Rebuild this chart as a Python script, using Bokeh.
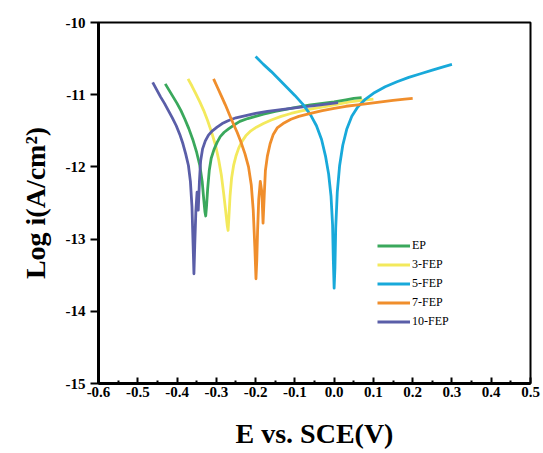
from bokeh.plotting import figure
from bokeh.models import FixedTicker, Legend, LegendItem, Range1d
from bokeh.embed import file_html
from bokeh.resources import INLINE

# ---- data ----
ep_E = [-0.430, -0.420, -0.410, -0.400, -0.390, -0.380, -0.370, -0.360, -0.350, -0.342, -0.336, -0.332,
        -0.329, -0.327, -0.325, -0.322, -0.318, -0.313, -0.306, -0.298, -0.290, -0.280, -0.268, -0.255,
        -0.240, -0.220, -0.200, -0.180, -0.150, -0.120, -0.090, -0.060, -0.030, 0.000, 0.030, 0.050, 0.070]
ep_i = [-10.85, -10.94, -11.03, -11.12, -11.22, -11.34, -11.47, -11.62, -11.80, -11.98, -12.20, -12.45,
        -12.62, -12.68, -12.55, -12.30, -12.05, -11.88, -11.76, -11.66, -11.58, -11.52, -11.47, -11.42,
        -11.37, -11.33, -11.30, -11.27, -11.23, -11.20, -11.17, -11.14, -11.12, -11.10, -11.07, -11.05, -11.04]

fep3_E = [-0.372, -0.362, -0.352, -0.342, -0.332, -0.322, -0.312, -0.302, -0.294, -0.287, -0.281, -0.276,
          -0.272, -0.270, -0.268, -0.265, -0.261, -0.256, -0.250, -0.243, -0.235, -0.225, -0.212, -0.198,
          -0.180, -0.160, -0.135, -0.110, -0.080, -0.050, -0.020, 0.010, 0.040, 0.070, 0.100]
fep3_i = [-10.78, -10.88, -10.99, -11.10, -11.22, -11.36, -11.52, -11.70, -11.90, -12.12, -12.38, -12.62,
          -12.82, -12.88, -12.70, -12.40, -12.15, -11.98, -11.85, -11.74, -11.65, -11.57, -11.50, -11.45,
          -11.40, -11.35, -11.30, -11.26, -11.22, -11.19, -11.16, -11.13, -11.10, -11.08, -11.06]

fep5_E = [-0.200, -0.180, -0.160, -0.140, -0.120, -0.100, -0.080, -0.060, -0.045, -0.032, -0.022, -0.014,
          -0.008, -0.004, -0.002, 0.000, 0.002, 0.004, 0.008, 0.014, 0.022, 0.032, 0.045, 0.060, 0.080,
          0.100, 0.130, 0.160, 0.190, 0.220, 0.250, 0.280, 0.300]
fep5_i = [-10.47, -10.58, -10.68, -10.79, -10.90, -11.01, -11.13, -11.28, -11.43, -11.62, -11.85, -12.10,
          -12.40, -12.80, -13.30, -13.68, -13.40, -12.85, -12.35, -11.98, -11.70, -11.48, -11.30, -11.17,
          -11.06, -10.98, -10.89, -10.82, -10.76, -10.71, -10.66, -10.61, -10.58]

fep7_E = [-0.307, -0.297, -0.287, -0.277, -0.267, -0.257, -0.247, -0.237, -0.227, -0.218, -0.211, -0.206,
          -0.202, -0.199, -0.197, -0.195, -0.192, -0.188, -0.184, -0.181, -0.178, -0.175, -0.170, -0.163,
          -0.155, -0.145, -0.130, -0.110, -0.090, -0.060, -0.030, 0.000, 0.030, 0.060, 0.090, 0.120, 0.150,
          0.180, 0.200]
fep7_i = [-10.78, -10.90, -11.02, -11.14, -11.27, -11.40, -11.52, -11.66, -11.82, -12.00, -12.25, -12.60,
          -13.10, -13.55, -13.30, -12.90, -12.45, -12.20, -12.35, -12.78, -12.40, -12.05, -11.85, -11.68,
          -11.55, -11.46, -11.40, -11.34, -11.30, -11.26, -11.22, -11.19, -11.16, -11.14, -11.12, -11.10,
          -11.08, -11.06, -11.05]

fep10_E = [-0.462, -0.452, -0.442, -0.432, -0.422, -0.412, -0.402, -0.393, -0.385, -0.378, -0.371, -0.366,
           -0.362, -0.359, -0.357, -0.355, -0.352, -0.349, -0.346, -0.343, -0.340, -0.335, -0.328, -0.320,
           -0.310, -0.298, -0.285, -0.270, -0.250, -0.225, -0.200, -0.170, -0.140, -0.110, -0.080, -0.050,
           -0.020, 0.010]
fep10_i = [-10.83, -10.93, -11.03, -11.12, -11.22, -11.32, -11.43, -11.55, -11.68, -11.82, -11.98, -12.20,
           -12.55, -13.10, -13.48, -13.10, -12.60, -12.35, -12.60, -12.20, -11.92, -11.75, -11.64, -11.56,
           -11.50, -11.45, -11.40, -11.36, -11.32, -11.29, -11.26, -11.23, -11.21, -11.19, -11.17, -11.15,
           -11.13, -11.11]

series_names = ["EP", "3-FEP", "5-FEP", "7-FEP", "10-FEP"]
series_colors = ["#3aa85c", "#f3e95c", "#18a9da", "#f08e2c", "#5a5ea8"]

x_ticks = [-0.6, -0.5, -0.4, -0.3, -0.2, -0.1, 0.0, 0.1, 0.2, 0.3, 0.4, 0.5]
x_tick_labels = ["-0.6", "-0.5", "-0.4", "-0.3", "-0.2", "-0.1", "0.0", "0.1", "0.2", "0.3", "0.4", "0.5"]
y_ticks = [-15, -14, -13, -12, -11, -10]
y_tick_labels = ["-15", "-14", "-13", "-12", "-11", "-10"]

FONT = "Liberation Serif"

p = figure(width=543, height=453, output_backend="svg", toolbar_location=None,
           x_range=Range1d(-0.6, 0.5), y_range=Range1d(-15, -10),
           min_border_left=98, min_border_right=13, min_border_top=22, min_border_bottom=70)
p.background_fill_color = "white"
p.border_fill_color = "white"
p.grid.visible = False
p.outline_line_color = "black"
p.outline_line_width = 2

data = {
    "EP": (ep_E, ep_i), "3-FEP": (fep3_E, fep3_i), "5-FEP": (fep5_E, fep5_i),
    "7-FEP": (fep7_E, fep7_i), "10-FEP": (fep10_E, fep10_i),
}
renderers = {}
for name in ["3-FEP", "EP", "10-FEP", "5-FEP", "7-FEP"]:
    E, i = data[name]
    col = series_colors[series_names.index(name)]
    renderers[name] = p.line(E, i, line_color=col, line_width=2.8, line_join="round")

legend = Legend(items=[LegendItem(label=n, renderers=[renderers[n]]) for n in series_names],
                location=(279, 52), padding=0, margin=0, spacing=0,
                glyph_width=33, glyph_height=19, label_height=19, label_standoff=2,
                label_text_font=FONT, label_text_font_size="12px", label_text_color="black",
                border_line_alpha=0, background_fill_alpha=0)
p.add_layout(legend, "center")

# x axis
xa = p.xaxis[0]
minor = [(a + b) / 2 for a, b in zip(x_ticks[:-1], x_ticks[1:])]
xa.ticker = FixedTicker(ticks=x_ticks, minor_ticks=minor)
xa.major_label_overrides = {t: l for t, l in zip(x_ticks, x_tick_labels)}
xa.major_tick_in = 6
xa.major_tick_out = 0
xa.minor_tick_in = 3
xa.minor_tick_out = 0
xa.major_tick_line_width = 2
xa.minor_tick_line_width = 2
xa.axis_line_width = 3
xa.major_label_standoff = 3
xa.major_label_text_font = FONT
xa.major_label_text_font_style = "bold"
xa.major_label_text_font_size = "15px"
xa.major_label_text_color = "black"
xa.axis_label = "E vs. SCE(V)"
xa.axis_label_text_font = FONT
xa.axis_label_text_font_style = "bold"
xa.axis_label_text_font_size = "28px"
xa.axis_label_text_color = "black"
xa.axis_label_standoff = 18

# y axis
ya = p.yaxis[0]
ya.ticker = FixedTicker(ticks=y_ticks, minor_ticks=[])
ya.major_label_overrides = {t: l for t, l in zip(y_ticks, y_tick_labels)}
ya.major_tick_in = 0
ya.major_tick_out = 8
ya.minor_tick_in = 0
ya.minor_tick_out = 0
ya.major_tick_line_width = 2
ya.axis_line_width = 3
ya.major_label_standoff = 5
ya.major_label_text_font = FONT
ya.major_label_text_font_style = "bold"
ya.major_label_text_font_size = "15px"
ya.major_label_text_color = "black"
ya.axis_label = "Log i(A/cm²)"
ya.axis_label_text_font = FONT
ya.axis_label_text_font_style = "bold"
ya.axis_label_text_font_size = "28px"
ya.axis_label_text_color = "black"
ya.axis_label_standoff = 12

open("out.html", "w").write(file_html(p, INLINE))
